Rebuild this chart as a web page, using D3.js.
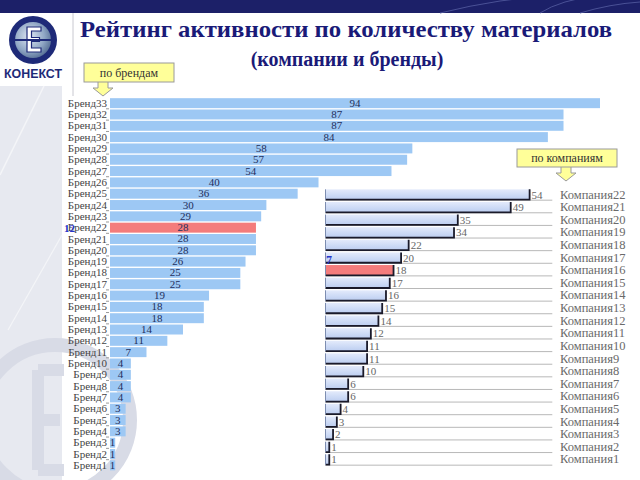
<!DOCTYPE html>
<html><head><meta charset="utf-8">
<script src="https://cdn.jsdelivr.net/npm/d3@7"></script>
<style>
html,body{margin:0;padding:0;background:#fff;}
svg{display:block;}
.serif{font-family:"Liberation Serif","DejaVu Serif","Times New Roman",serif;}
</style></head>
<body>
<svg id="c" width="640" height="480"></svg>
<script>
// ---- data ----
const brandLabels = ["Бренд33","Бренд32","Бренд31","Бренд30","Бренд29","Бренд28","Бренд27","Бренд26","Бренд25","Бренд24","Бренд23","Бренд22","Бренд21","Бренд20","Бренд19","Бренд18","Бренд17","Бренд16","Бренд15","Бренд14","Бренд13","Бренд12","Бренд11","Бренд10","Бренд9","Бренд8","Бренд7","Бренд6","Бренд5","Бренд4","Бренд3","Бренд2","Бренд1"];
const brandValues = [94,87,87,84,58,57,54,40,36,30,29,28,28,28,26,25,25,19,18,18,14,11,7,4,4,4,4,3,3,3,1,1,1];
const brandHighlight = "Бренд22";
const brandRank = "12";

const companyLabels = ["Компания22","Компания21","Компания20","Компания19","Компания18","Компания17","Компания16","Компания15","Компания14","Компания13","Компания12","Компания11","Компания10","Компания9","Компания8","Компания7","Компания6","Компания5","Компания4","Компания3","Компания2","Компания1"];
const companyValues = [54,49,35,34,22,20,18,17,16,15,14,12,11,11,10,6,6,4,3,2,1,1];
const companyHighlight = "Компания16";
const companyRank = "7";

const titleText = "Рейтинг активности по количеству материалов";
const subtitleText = "(компании и бренды)";
const calloutBrands = "по брендам";
const calloutCompanies = "по компаниям";
const logoText = "КОНЕКСТ";

// ---- drawing ----
const svg = d3.select("#c");
const defs = svg.append("defs");

const g1 = defs.append("linearGradient").attr("id","cbar").attr("x1",0).attr("y1",0).attr("x2",0).attr("y2",1);
g1.append("stop").attr("offset","0%").attr("stop-color","#e3eafb");
g1.append("stop").attr("offset","50%").attr("stop-color","#cfdcf6");
g1.append("stop").attr("offset","100%").attr("stop-color","#bccdf0");

const gl = defs.append("radialGradient").attr("id","globe").attr("cx","40%").attr("cy","40%").attr("r","70%");
gl.append("stop").attr("offset","0%").attr("stop-color","#dfe8f3");
gl.append("stop").attr("offset","60%").attr("stop-color","#8fa6c4");
gl.append("stop").attr("offset","100%").attr("stop-color","#4b648c");

// top band
svg.append("rect").attr("x",0).attr("y",0).attr("width",640).attr("height",13).attr("fill","#1c2068");
const band = svg.append("g").attr("fill","none").attr("stroke","#4a5196").attr("stroke-width",1);
band.append("path").attr("d","M440,13 Q500,-2 560,-5");
band.append("path").attr("d","M540,13 Q560,0 600,-5");
band.append("path").attr("d","M580,13 Q610,4 640,2");

// left panel
svg.append("rect").attr("x",0).attr("y",86).attr("width",62).attr("height",394).attr("fill","#e7e9f0");
svg.append("path").attr("d","M44,86 L0,175").attr("stroke","#f4f5f8").attr("stroke-width",1.5).attr("fill","none");
svg.append("path").attr("d","M62,235 L8,330").attr("stroke","#f4f5f8").attr("stroke-width",1.2).attr("fill","none");
svg.append("circle").attr("cx",55).attr("cy",420).attr("r",75).attr("fill","none").attr("stroke","#d8dbe6").attr("stroke-width",14);
svg.append("path").attr("d","M38,370 h26 M38,370 v100 M38,420 h22 M38,470 h26").attr("stroke","#d8dbe6").attr("stroke-width",12).attr("fill","none");

// vertical separator
svg.append("line").attr("x1",73).attr("x2",73).attr("y1",13).attr("y2",96).attr("stroke","#c8c8d0");

// logo
const logo = svg.append("g");
logo.append("circle").attr("cx",33).attr("cy",40).attr("r",24).attr("fill","#1e2a78");
logo.append("circle").attr("cx",33).attr("cy",40).attr("r",18).attr("fill","url(#globe)");
logo.append("path").attr("d","M27,27 h14 v4 h-9.5 v6.5 h8 v4 h-8 v6.5 h9.5 v4 h-14 z").attr("fill","#fff").attr("stroke","#1e2a78").attr("stroke-width",1.2);
logo.append("line").attr("x1",12).attr("x2",54).attr("y1",40).attr("y2",40).attr("stroke","#1e2a78").attr("stroke-width",2.2);
logo.append("text").attr("x",33).attr("y",78).attr("text-anchor","middle")
  .style("font-family","'Liberation Sans',Arial,sans-serif").attr("font-weight","bold").attr("font-size",12.5)
  .attr("fill","#1e2a78").attr("textLength",58).attr("lengthAdjust","spacingAndGlyphs").text(logoText);

// titles
svg.append("text").attr("class","serif").attr("x",346).attr("y",37).attr("text-anchor","middle")
  .attr("font-weight","bold").attr("font-size",24).attr("fill","#1a1a78")
  .attr("textLength",532).attr("lengthAdjust","spacingAndGlyphs").text(titleText);
svg.append("text").attr("class","serif").attr("x",347).attr("y",66).attr("text-anchor","middle")
  .attr("font-weight","bold").attr("font-size",20).attr("fill","#1a1a78")
  .text(subtitleText);

// callouts
function callout(x, y, w, h, ax, label) {
  const g = svg.append("g");
  g.append("path")
    .attr("d", `M${ax-5},${y+h} v6 h-5 l10,8 l10,-8 h-5 v-6`)
    .attr("fill","#ffff99").attr("stroke","#9a9a9a").attr("stroke-width",1);
  g.append("rect").attr("x",x).attr("y",y).attr("width",w).attr("height",h)
    .attr("fill","#ffff99").attr("stroke","#9a9a9a").attr("stroke-width",1);
  g.append("text").attr("class","serif").attr("x",x+w/2).attr("y",y+h/2+4).attr("text-anchor","middle")
    .attr("font-size",12).attr("fill","#333").text(label);
}

// ---- brand chart ----
const xB = d3.scaleLinear().domain([0,94]).range([110,600]);
const yB = d3.scaleBand().domain(brandLabels).range([97.5,471]).paddingInner(0.12).paddingOuter(0.06);

const brandData = brandLabels.map((l,i)=>({label:l, value:brandValues[i]}));
svg.append("g").selectAll("rect").data(brandData).join("rect")
  .attr("x", xB(0)).attr("y", d=>yB(d.label))
  .attr("width", d=>xB(d.value)-xB(0)).attr("height", yB.bandwidth())
  .attr("fill", d=>d.label===brandHighlight ? "#f47c7c" : "#9dc8f4");

svg.append("g").selectAll("text").data(brandData).join("text")
  .attr("class","serif")
  .attr("x", d=>(xB(0)+xB(d.value))/2).attr("y", d=>yB(d.label)+yB.bandwidth()/2+3.5)
  .attr("text-anchor","middle").attr("font-size",11)
  .attr("fill","#1f2f5c").text(d=>d.value);

const axB = svg.append("g").attr("transform","translate(109,0)")
  .call(d3.axisLeft(yB).tickSize(0).tickPadding(2));
axB.select(".domain").remove();
axB.attr("font-family",null);
axB.selectAll("text").attr("class","serif").attr("font-size",11).attr("fill","#444");
// between-category tick marks
svg.append("g").selectAll("line").data(brandLabels.slice(1)).join("line")
  .attr("x1",106).attr("x2",109)
  .attr("y1",d=>yB(d)-yB.step()*yB.paddingInner()/2).attr("y2",d=>yB(d)-yB.step()*yB.paddingInner()/2)
  .attr("stroke","#999").attr("stroke-width",1);

svg.append("text").attr("class","serif").attr("x",64).attr("y",yB(brandHighlight)+yB.bandwidth()/2+4)
  .attr("font-weight","bold").attr("font-size",11).attr("fill","#2232c8").text(brandRank);

// ---- company chart ----
const xC = d3.scaleLinear().domain([0,60]).range([325.5,552.3]);
const yC = d3.scaleBand().domain(companyLabels).range([188.7,465.3]).paddingInner(0.18).paddingOuter(0.05);
const companyData = companyLabels.map((l,i)=>({label:l, value:companyValues[i]}));

// gridlines
svg.append("g").selectAll("line").data(companyLabels).join("line")
  .attr("x1", xC(0)).attr("x2", xC.range()[1])
  .attr("y1", d=>yC(d)+yC.bandwidth()+0.5).attr("y2", d=>yC(d)+yC.bandwidth()+0.5)
  .attr("stroke","#b8b8b8").attr("stroke-width",1);

const cb = svg.append("g").selectAll("g").data(companyData).join("g");
cb.append("rect")
  .attr("x", xC(0)).attr("y", d=>yC(d.label))
  .attr("width", d=>xC(d.value)-xC(0)).attr("height", yC.bandwidth())
  .attr("fill", d=>d.label===companyHighlight ? "#f47c7c" : "url(#cbar)");
cb.append("path")
  .attr("d", d=>{const x0=xC(0), x1=xC(d.value), y0=yC(d.label), y1=y0+yC.bandwidth();
    return `M${x0},${y1} H${x1} V${y0}`;})
  .attr("fill","none").attr("stroke","#1a1a2a").attr("stroke-width",1.8);
cb.append("line")
  .attr("x1", xC(0)).attr("x2", xC(0)).attr("y1", d=>yC(d.label)).attr("y2", d=>yC(d.label)+yC.bandwidth())
  .attr("stroke","#7d8db0").attr("stroke-width",1);

svg.append("g").selectAll("text").data(companyData).join("text")
  .attr("class","serif")
  .attr("x", d=>xC(d.value)+2).attr("y", d=>yC(d.label)+yC.bandwidth()/2+4)
  .attr("font-size",11).attr("fill","#666").text(d=>d.value);

const axC = svg.append("g").attr("transform","translate(558,0)")
  .call(d3.axisRight(yC).tickSize(0).tickPadding(2));
axC.select(".domain").remove();
axC.attr("font-family",null);
axC.selectAll("text").attr("class","serif").attr("font-size",12.5).attr("fill","#6a6a6a");

svg.append("text").attr("class","serif").attr("x",326).attr("y",yC(companyHighlight)-1)
  .attr("font-weight","bold").attr("font-size",12).attr("fill","#2232c8").text(companyRank);

callout(84, 63, 90, 19, 103, calloutBrands);
callout(517, 149, 100, 18, 566, calloutCompanies);
</script>
</body></html>
